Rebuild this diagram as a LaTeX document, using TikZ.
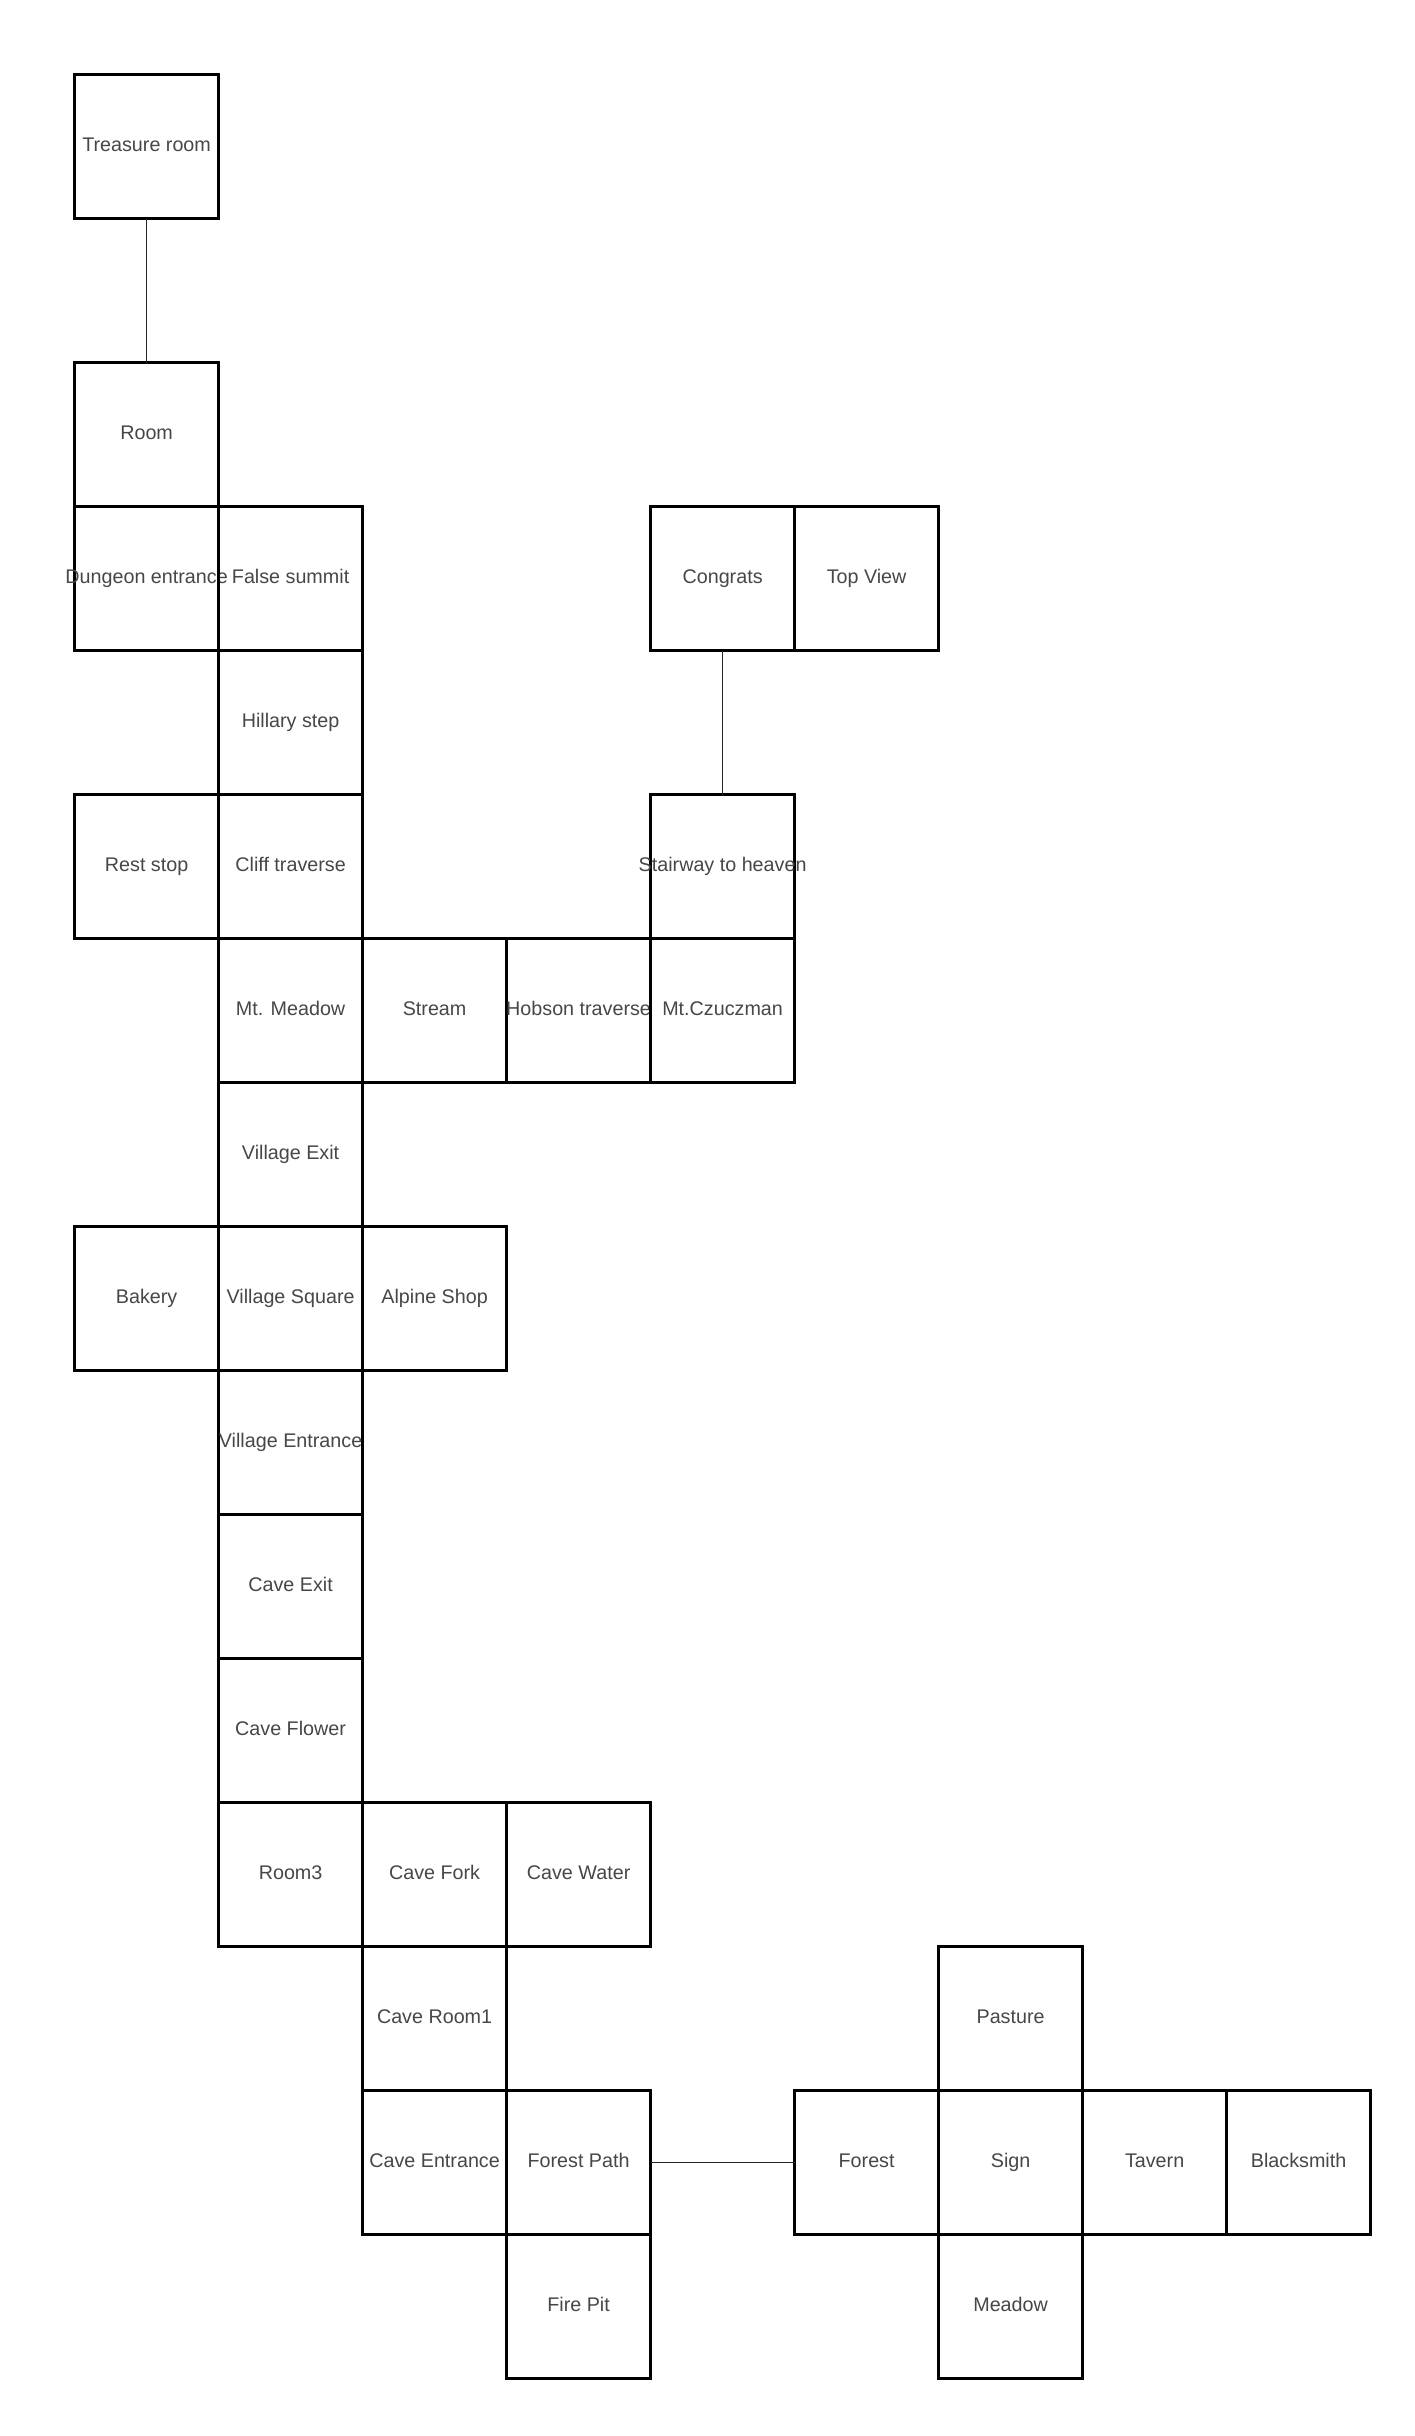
\documentclass[tikz,border=0pt]{standalone}
\usepackage{fontspec}
\setmainfont{Liberation Sans}
\begin{document}
\begin{tikzpicture}[x=0.75pt,y=-0.75pt,
  room/.style={draw=black,line width=2.4pt,minimum width=108pt,minimum height=108pt,
    inner xsep=-40pt,inner ysep=0pt,outer sep=0pt,text height=0.7em,text depth=0em,
    text=black!72,font=\fontsize{14.8}{17}\selectfont},
  link/.style={draw=black!85,line width=1.2pt}]
\useasboundingbox[fill=white] (0,0) rectangle (1414,2436);
% grid cell centre: column c, row r
\def\cell#1#2{(74.6+144*#1+72, 74.6+144*#2+72)}
\node[room] (treasure) at \cell{0}{0} {Treasure room};
\node[room] (room) at \cell{0}{2} {Room};
\node[room] (dungeon) at \cell{0}{3} {Dungeon entrance};
\node[room] (falsesummit) at \cell{1}{3} {False summit};
\node[room] (congrats) at \cell{4}{3} {Congrats};
\node[room] (topview) at \cell{5}{3} {Top View};
\node[room] (hillary) at \cell{1}{4} {Hillary step};
\node[room] (reststop) at \cell{0}{5} {Rest stop};
\node[room] (cliff) at \cell{1}{5} {Cliff traverse};
\node[room] (stairway) at \cell{4}{5} {Stairway to heaven};
\node[room] (mtmeadow) at \cell{1}{6} {Mt. Meadow};
\node[room] (stream) at \cell{2}{6} {Stream};
\node[room] (hobson) at \cell{3}{6} {Hobson traverse};
\node[room] (czuczman) at \cell{4}{6} {Mt.Czuczman};
\node[room] (vexit) at \cell{1}{7} {Village Exit};
\node[room] (bakery) at \cell{0}{8} {Bakery};
\node[room] (vsquare) at \cell{1}{8} {Village Square};
\node[room] (alpine) at \cell{2}{8} {Alpine Shop};
\node[room] (ventrance) at \cell{1}{9} {Village Entrance};
\node[room] (caveexit) at \cell{1}{10} {Cave Exit};
\node[room] (caveflower) at \cell{1}{11} {Cave Flower};
\node[room] (room3) at \cell{1}{12} {Room3};
\node[room] (cavefork) at \cell{2}{12} {Cave Fork};
\node[room] (cavewater) at \cell{3}{12} {Cave Water};
\node[room] (caveroom1) at \cell{2}{13} {Cave Room1};
\node[room] (pasture) at \cell{6}{13} {Pasture};
\node[room] (caveentrance) at \cell{2}{14} {Cave Entrance};
\node[room] (forestpath) at \cell{3}{14} {Forest Path};
\node[room] (forest) at \cell{5}{14} {Forest};
\node[room] (sign) at \cell{6}{14} {Sign};
\node[room] (tavern) at \cell{7}{14} {Tavern};
\node[room] (blacksmith) at \cell{8}{14} {Blacksmith};
\node[room] (firepit) at \cell{3}{15} {Fire Pit};
\node[room] (meadow) at \cell{6}{15} {Meadow};
% passages between separated rooms
\draw[link] (treasure.south) -- (room.north);
\draw[link] (congrats.south) -- (stairway.north);
\draw[link] (forestpath.east) -- (forest.west);
\end{tikzpicture}
\end{document}
